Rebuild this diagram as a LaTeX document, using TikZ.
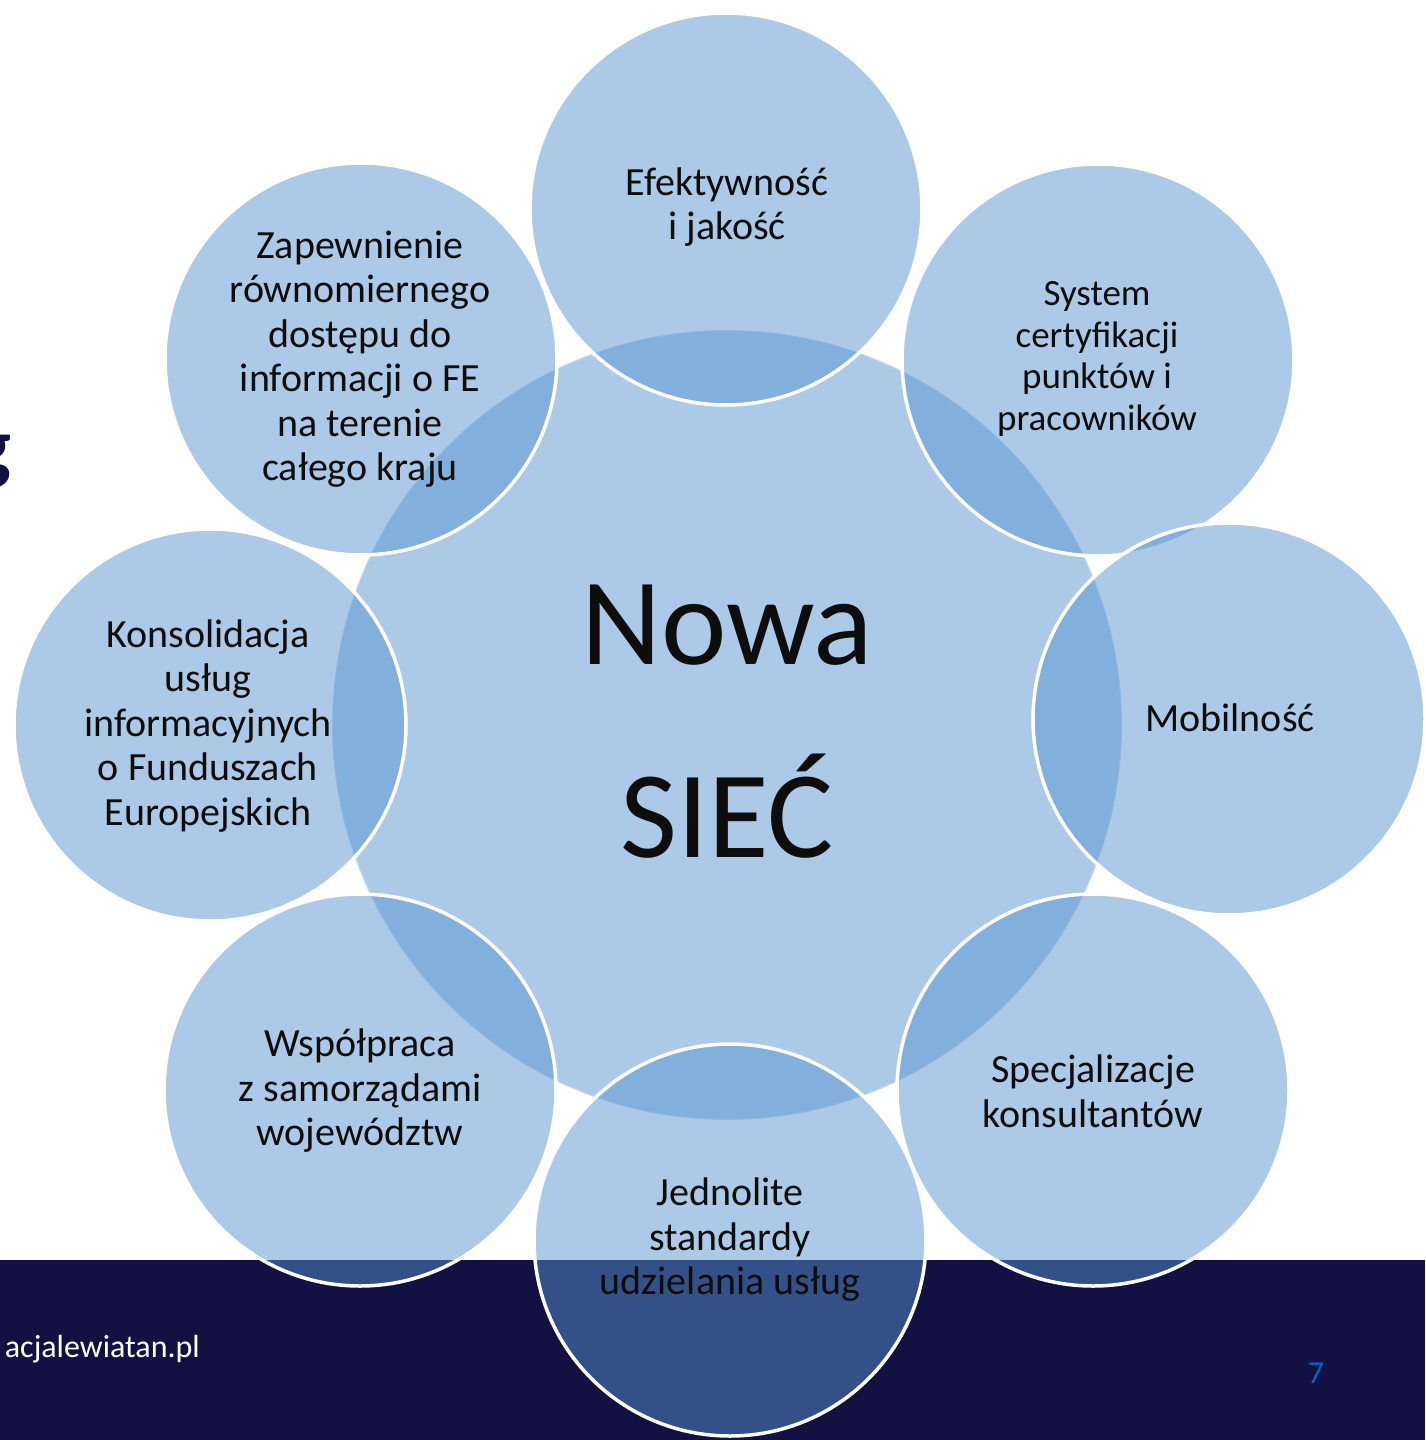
\documentclass[tikz,border=0pt]{standalone}
\usepackage{fontspec}
\setmainfont{Carlito}
\definecolor{cblue}{RGB}{87,148,208}
\definecolor{bandc}{RGB}{19,17,65}
\definecolor{txt}{RGB}{13,13,13}
\definecolor{pnum}{RGB}{0,102,192}
\begin{document}
\begin{tikzpicture}[x=1pt,y=-1pt,
  bub/.style={circle, inner sep=0pt, outer sep=0pt, minimum size=392pt, fill=cblue, fill opacity=0.49, draw=white, draw opacity=1, line width=3.5pt},
  hub/.style={circle, inner sep=0pt, outer sep=0pt, minimum size=790pt, fill=cblue, fill opacity=0.49, draw=white, draw opacity=0.35, line width=2pt},
  lab/.style={align=center, text=txt, font=\fontsize{40}{44.5}\selectfont, inner sep=0pt},
  labs/.style={align=center, text=txt, font=\fontsize{37}{41.5}\selectfont, inner sep=0pt},
]
\useasboundingbox (0,0) rectangle (1425,1440);
\fill[white] (0,0) rectangle (1425,1440);
\fill[bandc] (0,1260) rectangle (1425,1440);
\node[anchor=base east, text=bandc, font=\fontsize{84}{90}\selectfont\bfseries] (title) at (15,474) {g};
\node[anchor=base east, text=white, font=\fontsize{32}{38}\selectfont, inner sep=0pt] (url) at (200,1357) {acjalewiatan.pl};
\node[text=pnum, font=\fontsize{32}{38}\selectfont, inner sep=0pt] (pg) at (1316,1373) {7};

\node[hub] (c0) at (727,725) {};
\node[bub] (c1) at (726,209) {};
\node[bub] (c2) at (1098,360) {};
\node[bub] (c3) at (1229,719) {};
\node[bub] (c4) at (1093,1090) {};
\node[bub] (c5) at (730,1240) {};
\node[bub] (c6) at (360,1090) {};
\node[bub] (c7) at (210,725) {};
\node[bub] (c8) at (361,359) {};

\node[align=center, text=txt, font=\fontsize{124}{193}\selectfont, inner sep=0pt] (t0) at (727,721.5) {Nowa\\SIEĆ};
\node[lab] (t1) at (727,207) {Efektywność\\i jakość};
\node[labs] (t2) at (1097,359) {System\\certyfikacji\\punktów i\\pracowników};
\node[lab] (t3) at (1230,718) {Mobilność};
\node[lab] (t4) at (1093,1091) {Specjalizacje\\konsultantów};
\node[lab] (t5) at (730,1240) {Jednolite\\standardy\\udzielania usług};
\node[lab] (t6) at (360,1091) {Współpraca\\z samorządami\\województw};
\node[lab] (t7) at (208,726) {Konsolidacja\\usług\\informacyjnych\\o Funduszach\\Europejskich};
\node[lab] (t8) at (360,359) {Zapewnienie\\równomiernego\\dostępu do\\informacji o FE\\na terenie\\całego kraju};
\end{tikzpicture}
\end{document}
